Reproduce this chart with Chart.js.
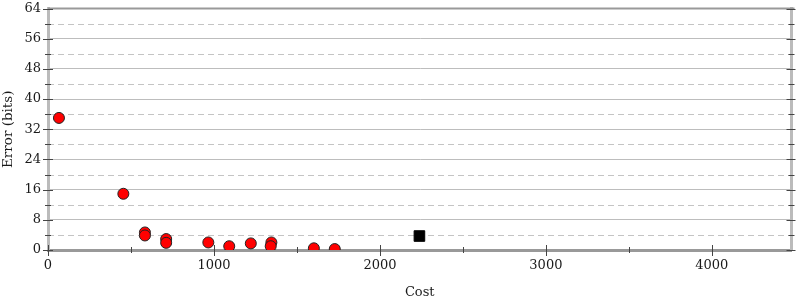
<!DOCTYPE html>
<html>
<head>
<meta charset="utf-8">
<script src="https://cdn.jsdelivr.net/npm/chart.js@4"></script>
<style>
  html, body { margin: 0; padding: 0; background: #fff; }
  #wrap { width: 800px; height: 300px; }
</style>
</head>
<body>
<div id="wrap"><canvas id="costChart"></canvas></div>
<script>
const costRed = [66, 454, 584, 584, 712, 712, 966, 1092, 1222, 1346, 1342, 1602, 1728];
const errorRed = [35.0, 14.9, 4.65, 3.85, 2.9, 1.9, 2.0, 1.0, 1.75, 2.0, 1.0, 0.45, 0.25];
const costBlack = [2238];
const errorBlack = [3.7];

const xMajor = [0, 1000, 2000, 3000, 4000];
const xMinor = [500, 1500, 2500, 3500];
const yMajor = [0, 8, 16, 24, 32, 40, 48, 56, 64];
const yMinor = [4, 12, 20, 28, 36, 44, 52, 60];

const serif = '"DejaVu Serif", serif';

function toPoints(xs, ys) {
  return xs.map((x, i) => ({ x: x, y: ys[i] }));
}

function noPad(s) {
  s.paddingTop = 0;
  s.paddingBottom = 0;
  s.paddingLeft = 0;
  s.paddingRight = 0;
}

// dashed minor grid, frame line on top and the crossing tick marks
const axisDecor = {
  id: 'axisDecor',
  beforeDatasetsDraw(chart) {
    const { ctx, chartArea, scales } = chart;
    const y = scales.y;
    ctx.save();
    ctx.strokeStyle = '#c4c4c4';
    ctx.lineWidth = 1;
    ctx.setLineDash([6, 4]);
    yMinor.forEach(v => {
      const py = Math.round(y.getPixelForValue(v)) + 0.5;
      ctx.beginPath();
      ctx.moveTo(chartArea.left, py);
      ctx.lineTo(chartArea.right, py);
      ctx.stroke();
    });
    ctx.setLineDash([]);
    ctx.restore();
  },
  afterDraw(chart) {
    const { ctx, chartArea, scales } = chart;
    const x = scales.x, y = scales.y;
    ctx.save();
    ctx.strokeStyle = '#999';
    ctx.lineWidth = 2;
    ctx.beginPath();
    ctx.moveTo(chartArea.left, chartArea.top);
    ctx.lineTo(chartArea.right + 3, chartArea.top);
    ctx.stroke();

    ctx.strokeStyle = '#444';
    ctx.lineWidth = 1;
    const L = chartArea.left, R = chartArea.right, B = chartArea.bottom;
    yMajor.forEach(v => {
      const py = Math.round(y.getPixelForValue(v)) + 0.5;
      ctx.beginPath();
      ctx.moveTo(L - 5, py); ctx.lineTo(L + 5, py);
      ctx.moveTo(R - 5, py); ctx.lineTo(R + 4, py);
      ctx.stroke();
    });
    yMinor.forEach(v => {
      const py = Math.round(y.getPixelForValue(v)) + 0.5;
      ctx.beginPath();
      ctx.moveTo(L - 3, py); ctx.lineTo(L + 3, py);
      ctx.moveTo(R - 3, py); ctx.lineTo(R + 3, py);
      ctx.stroke();
    });
    xMajor.forEach(v => {
      const px = Math.round(x.getPixelForValue(v)) + 0.5;
      ctx.beginPath();
      ctx.moveTo(px, B - 5); ctx.lineTo(px, B + 6);
      ctx.stroke();
    });
    xMinor.forEach(v => {
      const px = Math.round(x.getPixelForValue(v)) + 0.5;
      ctx.beginPath();
      ctx.moveTo(px, B - 3); ctx.lineTo(px, B + 3);
      ctx.stroke();
    });
    ctx.restore();
  }
};

const ctx = document.getElementById('costChart');

const costChart = new Chart(ctx, {
  type: 'scatter',
  data: {
    datasets: [{
      label: 'candidates',
      data: toPoints(costRed, errorRed),
      backgroundColor: '#ff0000',
      borderColor: '#222',
      borderWidth: 1,
      pointRadius: 5.5,
      pointHoverRadius: 5.5
    }, {
      label: 'chosen',
      data: toPoints(costBlack, errorBlack),
      pointStyle: 'rect',
      backgroundColor: '#000',
      borderColor: '#000',
      borderWidth: 1,
      pointRadius: 7.5,
      pointHoverRadius: 7.5
    }]
  },
  options: {
    responsive: true,
    maintainAspectRatio: false,
    animation: false,
    layout: { padding: { top: 7, right: 0, left: 0, bottom: 0 } },
    plugins: {
      legend: { display: false },
      tooltip: { enabled: false }
    },
    scales: {
      x: {
        type: 'linear',
        position: 'bottom',
        min: 0,
        max: 4480,
        afterBuildTicks: s => { s.ticks = xMajor.map(v => ({ value: v })); },
        afterFit: s => { s.height = 50; noPad(s); },
        grid: { display: false, drawTicks: false },
        border: { display: true, color: '#999', width: 3 },
        ticks: {
          padding: 8,
          maxRotation: 0,
          color: '#1a1a1a',
          font: { family: serif, size: 13 },
          callback: v => String(v)
        },
        title: {
          display: true,
          text: 'Cost',
          color: '#1a1a1a',
          padding: { top: 0, bottom: 0 },
          font: { family: serif, size: 13 }
        }
      },
      y: {
        type: 'linear',
        position: 'left',
        min: 0,
        max: 64,
        afterBuildTicks: s => { s.ticks = yMajor.map(v => ({ value: v })); },
        afterFit: s => { s.width = 48; noPad(s); },
        grid: { color: '#bdbdbd', lineWidth: 1, drawTicks: false },
        border: { display: true, color: '#bbb', width: 3 },
        ticks: {
          padding: 7,
          color: '#1a1a1a',
          font: { family: serif, size: 13 }
        },
        title: {
          display: true,
          text: 'Error (bits)',
          color: '#1a1a1a',
          padding: { top: 0, bottom: 4 },
          font: { family: serif, size: 13.5 }
        }
      },
      y2: {
        type: 'linear',
        position: 'right',
        min: 0,
        max: 64,
        afterFit: s => { s.width = 6; noPad(s); },
        grid: { drawOnChartArea: false, drawTicks: false },
        border: { display: true, color: '#bbb', width: 3 },
        ticks: { display: false }
      }
    }
  },
  plugins: [axisDecor]
});
</script>
</body>
</html>
